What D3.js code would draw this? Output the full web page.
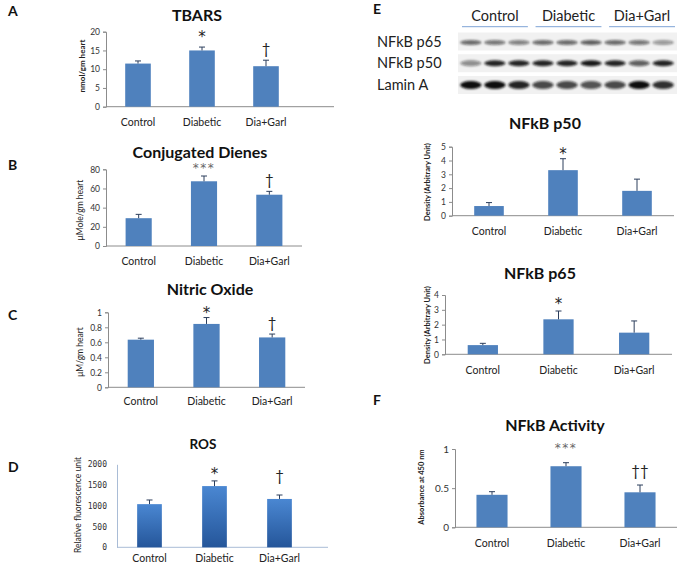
<!DOCTYPE html>
<html><head><meta charset="utf-8">
<script src="https://cdn.jsdelivr.net/npm/d3@7"></script>
<style>body{margin:0;background:#fff;} svg{display:block;font-family:Lato,"Open Sans",sans-serif;}</style>
</head><body>
<script>
// ---------- DATA ----------
const categories = ["Control", "Diabetic", "Dia+Garl"];

const tbarsMean = [11.5, 15.0, 10.8];
const tbarsErr  = [0.7, 0.9, 1.6];
const tbarsSig  = ["", "*", "†"];
const tbarsTicks = [0, 5, 10, 15, 20];

const dienesMean = [29, 67.5, 53.5];
const dienesErr  = [4, 5.5, 3.5];
const dienesSig  = ["", "***", "†"];
const dienesTicks = [0, 20, 40, 60, 80];

const noMean = [0.635, 0.845, 0.665];
const noErr  = [0.02, 0.085, 0.045];
const noSig  = ["", "*", "†"];
const noTicks = [0, 0.2, 0.4, 0.6, 0.8, 1];

const rosMean = [1040, 1475, 1165];
const rosErr  = [100, 125, 95];
const rosSig  = ["", "*", "†"];
const rosTicks = [0, 500, 1000, 1500, 2000];

const p50Mean = [0.7, 3.3, 1.8];
const p50Err  = [0.25, 0.83, 0.85];
const p50Sig  = ["", "*", ""];
const p50Ticks = [0, 1, 2, 3, 4, 5];

const p65Mean = [0.62, 2.36, 1.46];
const p65Err  = [0.12, 0.56, 0.79];
const p65Sig  = ["", "*", ""];
const p65Ticks = [0, 1, 2, 3, 4];

const actMean = [0.415, 0.78, 0.447];
const actErr  = [0.04, 0.045, 0.093];
const actSig  = ["", "***", "††"];
const actTicks = [0, 0.5, 1];

// Western blot (relative band darkness per lane, 9 lanes)
const blotRows = ["NFkB p65", "NFkB p50", "Lamin A"];
const blotGroups = ["Control", "Diabetic", "Dia+Garl"];
const p65Bands   = [0.6, 0.55, 0.5, 0.6, 0.6, 0.65, 0.6, 0.55, 0.4];
const p50Bands   = [0.45, 0.9, 0.9, 0.9, 0.9, 0.95, 0.9, 0.65, 0.9];
const laminBands = [1.0, 1.0, 0.9, 0.75, 0.75, 0.7, 0.75, 1.0, 0.85];

// ---------- DRAW ----------
const W = 689, H = 569;
const svg = d3.select("body").append("svg").attr("width", W).attr("height", H);
const defs = svg.append("defs");
const grad = defs.append("linearGradient").attr("id", "rosGrad").attr("x1", 0).attr("x2", 0).attr("y1", 0).attr("y2", 1);
grad.append("stop").attr("offset", "0%").attr("stop-color", "#4a87d2");
grad.append("stop").attr("offset", "100%").attr("stop-color", "#25569a");
defs.append("filter").attr("id", "blur").attr("x", "-50%").attr("y", "-100%").attr("width", "200%").attr("height", "300%")
  .append("feGaussianBlur").attr("stdDeviation", 0.8);

function panel(cfg) {
  const g = svg.append("g");
  const y = d3.scaleLinear().domain([0, d3.max(cfg.ticks)]).range([cfg.y0, cfg.yTop]);
  const x = d3.scaleBand().domain(categories).range([cfg.xAxis, cfg.bandEnd])
    .paddingInner(cfg.pad).paddingOuter(cfg.pad / 2);
  // title
  g.append("text").attr("x", cfg.titleX).attr("y", cfg.titleY).attr("text-anchor", "middle")
    .attr("font-size", cfg.titleSize || 16).attr("font-weight", "bold").attr("fill", "#111").text(cfg.title);
  // y axis
  const axisColor = cfg.axisColor || "#8c8c8c";
  const ya = d3.axisLeft(y).tickValues(cfg.ticks).tickSize(cfg.noTickMarks ? 0 : 3).tickPadding(cfg.noTickMarks ? 10 : 3)
    .tickFormat(d => d3.format("~g")(d));
  const yg = g.append("g").attr("transform", `translate(${cfg.xAxis},0)`).call(ya);
  yg.select(".domain").attr("stroke", axisColor);
  yg.selectAll(".tick line").attr("stroke", axisColor);
  yg.selectAll(".tick text").attr("font-size", cfg.tickSize || 8.5).attr("fill", "#333")
    .attr("font-family", cfg.tickFont || "Lato, sans-serif");
  // x axis line
  g.append("line").attr("x1", cfg.xAxis).attr("x2", cfg.axisEnd).attr("y1", cfg.y0).attr("y2", cfg.y0)
    .attr("stroke", axisColor);
  // bars
  const data = categories.map((c, i) => ({c, v: cfg.mean[i], e: cfg.err[i], s: cfg.sig[i], gap: cfg.sigGap[i]}));
  g.selectAll("rect.bar").data(data).join("rect").attr("class", "bar")
    .attr("x", d => x(d.c)).attr("width", x.bandwidth())
    .attr("y", d => y(d.v)).attr("height", d => y(0) - y(d.v))
    .attr("fill", cfg.fill || "#4f81bd");
  // error bars (upper)
  const eb = g.selectAll("g.eb").data(data).join("g").attr("class", "eb").attr("stroke", "#2c3e5c").attr("stroke-width", 1);
  eb.append("line").attr("x1", d => x(d.c) + x.bandwidth() / 2).attr("x2", d => x(d.c) + x.bandwidth() / 2)
    .attr("y1", d => y(d.v)).attr("y2", d => y(d.v + d.e));
  eb.append("line").attr("x1", d => x(d.c) + x.bandwidth() / 2 - 3).attr("x2", d => x(d.c) + x.bandwidth() / 2 + 3)
    .attr("y1", d => y(d.v + d.e)).attr("y2", d => y(d.v + d.e));
  // significance marks (centre of glyph placed 'gap' px above error cap)
  const isStar = d => d.s.includes("*");
  const fs = d => d.s === "***" ? 12 : (isStar(d) ? 15 : 15);
  g.selectAll("text.sig").data(data.filter(d => d.s)).join("text").attr("class", "sig")
    .attr("x", d => x(d.c) + x.bandwidth() / 2)
    .attr("y", d => {
      const c = y(d.v + d.e) - d.gap;
      return isStar(d) ? c + 0.6 * fs(d) : c + 0.36 * fs(d);
    })
    .attr("text-anchor", "middle").attr("font-size", fs)
    .attr("font-family", d => isStar(d) ? "DejaVu Sans, sans-serif" : "Lato, sans-serif")
    .attr("letter-spacing", d => d.s === "***" ? 1.5 : 0)
    .attr("fill", d => d.s === "***" ? "#666" : "#222")
    .text(d => d.s);
  // category labels
  g.selectAll("text.cat").data(data).join("text").attr("class", "cat")
    .attr("x", d => x(d.c) + x.bandwidth() / 2).attr("y", cfg.catY)
    .attr("text-anchor", "middle").attr("font-size", 10.5).attr("fill", "#222").text(d => d.c);
  // y title
  g.append("text").attr("transform", `translate(${cfg.ylabX},${cfg.ylabY}) rotate(-90)`)
    .attr("text-anchor", "middle").attr("font-size", cfg.ylabSize || 8).attr("font-weight", cfg.ylabBold ? "bold" : "normal")
    .attr("fill", "#222").text(cfg.ylab);
  return {x, y};
}

// Panel A
panel({title: "TBARS", titleX: 197, titleY: 21, mean: tbarsMean, err: tbarsErr, sig: tbarsSig, ticks: tbarsTicks,
  sigGap: [0, 14, 12],
  xAxis: 106, bandEnd: 298, axisEnd: 334, y0: 106.7, yTop: 31.7, pad: 0.6, catY: 126,
  ylab: "nmol/gm heart", ylabX: 85, ylabY: 66, ylabBold: true});
// Panel B
panel({title: "Conjugated Dienes", titleX: 200, titleY: 158, mean: dienesMean, err: dienesErr, sig: dienesSig, ticks: dienesTicks,
  sigGap: [0, 11, 12],
  xAxis: 106, bandEnd: 302, axisEnd: 302, y0: 246, yTop: 169.3, pad: 0.6, catY: 265,
  ylab: "μMole/gm heart", ylabX: 83, ylabY: 210, ylabSize: 8.5});
// Panel C
panel({title: "Nitric Oxide", titleX: 210, titleY: 295, mean: noMean, err: noErr, sig: noSig, ticks: noTicks,
  sigGap: [0, 9, 11],
  xAxis: 108, bandEnd: 305, axisEnd: 305, y0: 387.3, yTop: 312.3, pad: 0.6, catY: 405,
  ylab: "μM/gm heart", ylabX: 83, ylabY: 352, ylabSize: 8.5});
// Panel D
panel({title: "ROS", titleX: 203, titleY: 449, titleSize: 13.5, mean: rosMean, err: rosErr, sig: rosSig, ticks: rosTicks,
  sigGap: [0, 11, 19],
  xAxis: 117, bandEnd: 312, axisEnd: 328, y0: 547.3, yTop: 464.3, pad: 0.62, catY: 562,
  noTickMarks: true, axisColor: "#a9bcd6", tickFont: "DejaVu Sans Mono, monospace", tickSize: 8,
  fill: "url(#rosGrad)", ylab: "Relative fluorescence unit", ylabX: 81, ylabY: 505, ylabSize: 8.5});
// p50
panel({title: "NFkB p50", titleX: 545, titleY: 129, mean: p50Mean, err: p50Err, sig: p50Sig, ticks: p50Ticks,
  sigGap: [0, 9, 0],
  xAxis: 452, bandEnd: 674, axisEnd: 674, y0: 215.7, yTop: 146.7, pad: 0.6, catY: 235,
  ylab: "Density (Arbitrary Unit)", ylabX: 430, ylabY: 182, ylabBold: true, ylabSize: 7.5});
// p65
panel({title: "NFkB p65", titleX: 540, titleY: 279, mean: p65Mean, err: p65Err, sig: p65Sig, ticks: p65Ticks,
  sigGap: [0, 11, 0],
  xAxis: 445, bandEnd: 672, axisEnd: 672, y0: 354.3, yTop: 295, pad: 0.6, catY: 374,
  ylab: "Density (Arbitrary Unit)", ylabX: 430, ylabY: 325, ylabBold: true, ylabSize: 7.5});
// F
panel({title: "NFkB Activity", titleX: 555, titleY: 431, mean: actMean, err: actErr, sig: actSig, ticks: actTicks,
  sigGap: [0, 18, 14],
  xAxis: 455, bandEnd: 677, axisEnd: 677, y0: 527.3, yTop: 449, pad: 0.58, catY: 547, tickSize: 10,
  ylab: "Absorbance  at  450 nm", ylabX: 424, ylabY: 487, ylabBold: true, ylabSize: 7.5});

// panel letters
const letters = [["A", 8, 16], ["B", 8, 170], ["C", 8, 320], ["D", 8, 472], ["E", 373, 14], ["F", 373, 405]];
svg.selectAll("text.letter").data(letters).join("text").attr("class", "letter")
  .attr("x", d => d[1]).attr("y", d => d[2]).attr("font-size", 14).attr("font-weight", "bold").attr("fill", "#111").text(d => d[0]);

// ---------- Western blot ----------
const blot = svg.append("g");
const lane = d3.scaleBand().domain(d3.range(9)).range([457, 677]).padding(0.15);
const grp = d3.scaleBand().domain(blotGroups).range([460, 677]).paddingInner(0.05);
blot.selectAll("text.grp").data(blotGroups).join("text").attr("class", "grp")
  .attr("x", d => grp(d) + grp.bandwidth() / 2).attr("y", 21).attr("text-anchor", "middle")
  .attr("font-size", 14.5).attr("fill", "#222").text(d => d);
blot.selectAll("line.grp").data(blotGroups).join("line").attr("class", "grp")
  .attr("x1", d => grp(d) + 2).attr("x2", d => grp(d) + grp.bandwidth() - 2).attr("y1", 26.7).attr("y2", 26.7)
  .attr("stroke", "#7ea3d6").attr("stroke-width", 1);
const rowY = d3.scalePoint().domain(blotRows).range([41.5, 85]);
blot.selectAll("text.row").data(blotRows).join("text").attr("class", "row")
  .attr("x", 377).attr("y", d => rowY(d) + 5).attr("font-size", 14.5).attr("fill", "#222").text(d => d);
const rowBands = [p65Bands, p50Bands, laminBands];
const rowRy = [2.5, 2.9, 4.0];
blotRows.forEach((r, ri) => {
  blot.append("rect").attr("x", 458).attr("width", 219).attr("y", rowY(r) - 9).attr("height", 18)
    .attr("fill", "#f1f1f1");
  blot.selectAll(null).data(rowBands[ri]).join("ellipse")
    .attr("cx", (d, i) => lane(i) + lane.bandwidth() / 2).attr("cy", rowY(r) + (ri === 0 ? 1 : 0))
    .attr("rx", lane.bandwidth() / 2 + 0.5).attr("ry", rowRy[ri])
    .attr("fill", "#111").attr("fill-opacity", d => d).attr("filter", "url(#blur)");
});
</script>
</body></html>
